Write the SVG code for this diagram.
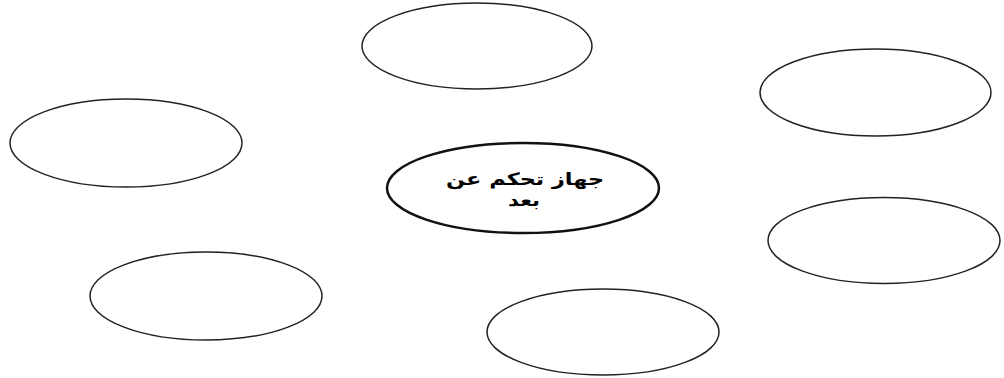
<svg xmlns="http://www.w3.org/2000/svg" width="1004" height="378" viewBox="0 0 1004 378">
<style>
.n{fill:#fff;stroke:#222;stroke-width:1.5}
.c{fill:#fff;stroke:#111;stroke-width:2.5}
.t{font-family:"DejaVu Sans",sans-serif;font-weight:bold;font-size:17px;fill:#000;text-anchor:middle}
</style>
<rect width="1004" height="378" fill="#fff"/>
<g id="connectors"></g>
<g id="node-center"><ellipse class="c" cx="523" cy="188" rx="136" ry="45"/>
<text class="t" x="525" y="185" direction="rtl" textLength="158" lengthAdjust="spacingAndGlyphs">جهاز تحكم عن</text>
<text class="t" x="524" y="206" direction="rtl" textLength="32" lengthAdjust="spacingAndGlyphs">بعد</text></g>
<g id="node-top"><ellipse class="n" cx="477" cy="46" rx="115" ry="43"/></g>
<g id="node-left"><ellipse class="n" cx="126" cy="143" rx="116" ry="44"/></g>
<g id="node-right-top"><ellipse class="n" cx="875.5" cy="92.5" rx="115.5" ry="43.5"/></g>
<g id="node-right-bottom"><ellipse class="n" cx="884" cy="240.5" rx="116" ry="43"/></g>
<g id="node-bottom-left"><ellipse class="n" cx="206" cy="296" rx="116" ry="44"/></g>
<g id="node-bottom"><ellipse class="n" cx="603" cy="332" rx="116" ry="43"/></g>
</svg>
